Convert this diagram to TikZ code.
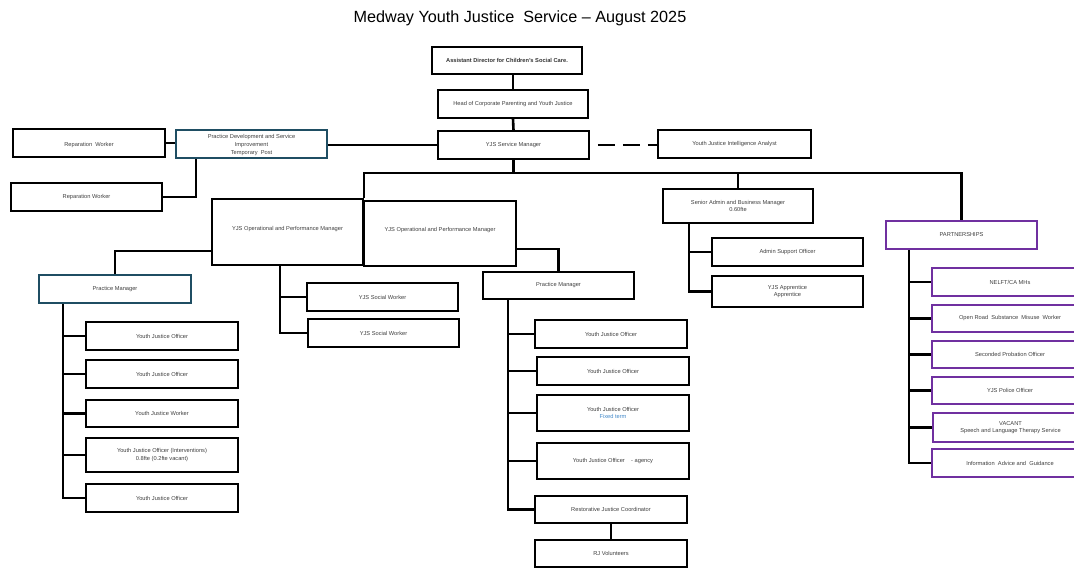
\documentclass[tikz,border=0pt]{standalone}
\usepackage{fontspec}
\setmainfont{Liberation Sans}
\definecolor{tealb}{RGB}{31,78,99}
\definecolor{purp}{RGB}{112,48,160}
\definecolor{txt}{RGB}{64,64,64}
\definecolor{fixblue}{RGB}{68,138,202}
\tikzset{
  box/.style={draw=black, line width=1.8pt, fill=white, inner sep=0pt, align=center,
    font=\fontsize{5.7}{7.8}\selectfont, text=txt},
  boldbox/.style={box, font=\fontsize{5.7}{7.6}\selectfont\bfseries, text=black!80},
  tbox/.style={box, draw=tealb},
  pbox/.style={box, draw=purp},
  conn/.style={line width=2.6pt, black},
}
\newcommand\bx[7][]{%
  \pgfmathsetmacro\bw{#5-#3}\pgfmathsetmacro\bh{#6-#4}%
  \node[box,#1,minimum width=\bw pt,minimum height=\bh pt] (#2) at ({(#3+#5)/2},{(#4+#6)/2}) {#7};}
\begin{document}
\begin{tikzpicture}[x=1pt,y=-1pt]
\clip (0,0) rectangle (1074,568);
\node[font=\fontsize{16.2}{19}\selectfont, text=black] (title) at (520,18.5) {Medway Youth Justice\ \ Service – August 2025};

% boxes
\bx[boldbox]{ad}{432}{47}{582}{74}{Assistant Director for Children’s Social Care.}
\bx{hd}{438}{90}{588}{118}{Head of Corporate Parenting and Youth Justice}
\bx{sm}{438}{131}{589}{159}{YJS Service Manager}
\bx{ana}{658}{130}{811}{158}{Youth Justice Intelligence Analyst}
\bx[boldbox,tbox]{pd}{176}{130}{327}{158}{\mbox{}\\[-1.8pt]Practice Development and Service\\Improvement\\Temporary\ \ Post}
\bx{rw1}{13}{129}{165}{157}{\mbox{}\\Reparation\ \ Worker}
\bx{rw2}{11}{183}{162}{211}{Reparation Worker}
\bx{opsA}{212}{199}{363}{265}{YJS Operational and Performance Manager\\\mbox{}}
\bx{opsB}{364}{201}{516}{266}{YJS Operational and Performance Manager\\\mbox{}}
\bx{sa}{663}{189}{813}{223}{Senior Admin and Business Manager\\0.60fte}
\bx{aso}{712}{238}{863}{266}{Admin Support Officer}
\bx{app}{712}{276}{863}{307}{YJS Apprentice\\Apprentice}
\bx[pbox]{part}{886}{221}{1037}{249}{PARTNERSHIPS}
\bx[pbox]{p1}{932}{268}{1088}{296}{NELFT/CA MHs}
\bx[pbox]{p2}{932}{305}{1088}{332}{Open Road\ \ Substance\ \ Misuse\ \ Worker}
\bx[pbox]{p3}{932}{341}{1088}{368}{Seconded Probation Officer}
\bx[pbox]{p4}{932}{377}{1088}{404}{YJS Police Officer}
\bx[pbox]{p5}{933}{413}{1088}{442}{VACANT\\Speech and Language Therapy Service}
\bx[pbox]{p6}{932}{449}{1088}{477}{Information\ \ Advice and\ \ Guidance}
\bx[tbox]{pmL}{39}{275}{191}{303}{Practice Manager}
\bx{l1}{86}{322}{238}{350}{Youth Justice Officer}
\bx{l2}{86}{360}{238}{388}{Youth Justice Officer}
\bx{l3}{86}{400}{238}{427}{Youth Justice Worker}
\bx{l4}{86}{438}{238}{472}{Youth Justice Officer (Interventions)\\0.8fte (0.2fte vacant)}
\bx{l5}{86}{484}{238}{512}{Youth Justice Officer}
\bx{sw1}{307}{283}{458}{311}{YJS Social Worker}
\bx{sw2}{308}{319}{459}{347}{YJS Social Worker}
\bx{pmR}{483}{272}{634}{299}{Practice Manager}
\bx{r1}{535}{320}{687}{348}{Youth Justice Officer}
\bx{r2}{537}{357}{689}{385}{Youth Justice Officer}
\bx{r3}{537}{395}{689}{431}{Youth Justice Officer\\{\color{fixblue}Fixed term}}
\bx{r4}{537}{443}{689}{479}{Youth Justice Officer\ \ \ \ - agency}
\bx{rjc}{535}{496}{687}{523}{Restorative Justice Coordinator}
\bx{rjv}{535}{540}{687}{567}{RJ Volunteers}

% bus coordinates
\coordinate (barY) at (0,173);
\coordinate (bL) at (63,0);
\coordinate (bO) at (280,0);
\coordinate (bR) at (508,0);
\coordinate (bSA) at (689,0);
\coordinate (bP) at (909,0);

% connectors
\draw[conn] (hd.north |- ad.south) -- (hd.north);
\draw[conn] (hd.south) -- (sm.north);
\draw[conn] (sm.west) -- (sm.west -| pd.east);
\draw[conn] (rw1.east) -- (rw1.east -| pd.west);
\draw[conn] ([xshift=-55.5pt]pd.south) |- (rw2.east);
\draw[conn, dash pattern=on 17pt off 8pt, dash phase=17pt] (sm.east) -- (sm.east -| ana.west);
\draw[conn] (sm.south) -- (sm.south |- barY);
\draw[conn] (opsA.north east) |- (part.north |- barY) -- (part.north);
\draw[conn] (sa.north) -- (sa.north |- barY);
\draw[conn] ([yshift=-19pt]opsA.west) -| (pmL.north);
\draw[conn] ([yshift=-15.5pt]opsB.east) -| (pmR.north);
\draw[conn] (opsA.south -| bO) |- (sw2.west);
\draw[conn] (sw1.west -| bO) -- (sw1.west);
\draw[conn] (pmL.south -| bL) |- (l5.west);
\foreach \n in {l1,l2,l3,l4} \draw[conn] (\n.west -| bL) -- (\n.west);
\draw[conn] (pmR.south -| bR) |- (rjc.west);
\foreach \n in {r1,r2,r3,r4} \draw[conn] (\n.west -| bR) -- (\n.west);
\draw[conn] (rjc.south) -- (rjc.south |- rjv.north);
\draw[conn] (sa.south -| bSA) |- (app.west);
\draw[conn] (aso.west -| bSA) -- (aso.west);
\draw[conn] (part.south -| bP) |- (p6.west);
\foreach \n in {p1,p2,p3,p4,p5} \draw[conn] (\n.west -| bP) -- (\n.west);
\end{tikzpicture}
\end{document}
